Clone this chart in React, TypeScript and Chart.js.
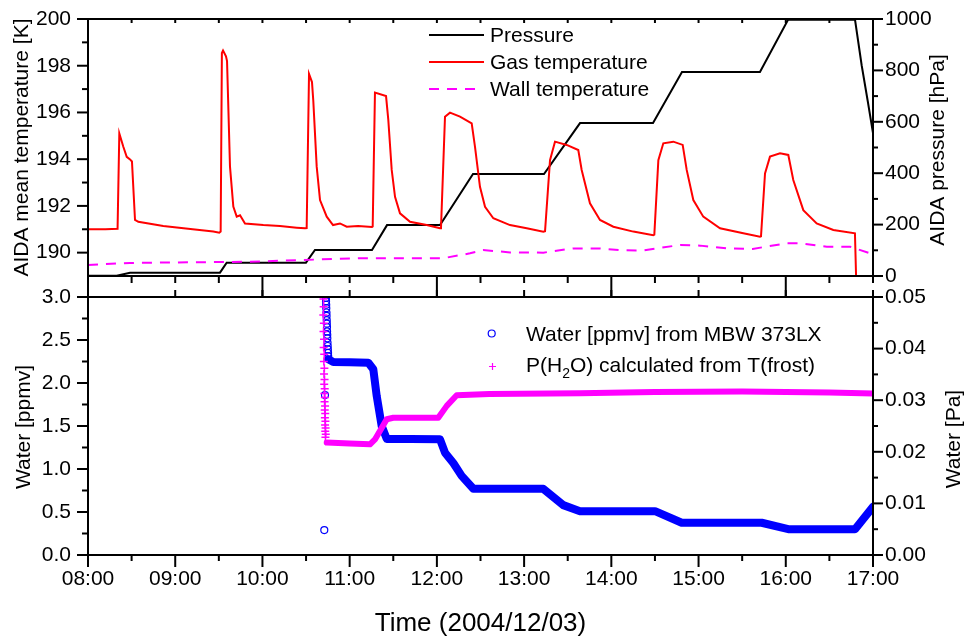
import React, { useEffect, useRef } from 'react';
import { Chart, registerables } from 'chart.js';

Chart.register(...registerables);

const FONT = "'Liberation Sans', Arial, Helvetica, sans-serif";

// ---- ticks ----
const timeTicks = [8, 9, 10, 11, 12, 13, 14, 15, 16, 17];
const timeLabels = ['08:00', '09:00', '10:00', '11:00', '12:00', '13:00', '14:00', '15:00', '16:00', '17:00'];
const timeHalfTicks = [8.5, 9.5, 10.5, 11.5, 12.5, 13.5, 14.5, 15.5, 16.5];
const timeOddHours = [9, 11, 13, 15, 17];
const timeEvenHours = [8, 10, 12, 14, 16];
const tempTicks = [190, 192, 194, 196, 198, 200];
const tempMinorTicks = [191, 193, 195, 197, 199];
const pressureTicks = [0, 200, 400, 600, 800, 1000];
const pressureMinorTicks = [100, 300, 500, 700, 900];
const ppmvTicks = [0, 0.5, 1, 1.5, 2, 2.5, 3];
const ppmvMinorTicks = [0.25, 0.75, 1.25, 1.75, 2.25, 2.75];
const paTicks = [0, 0.01, 0.02, 0.03, 0.04, 0.05];
const paMinorTicks = [0.005, 0.015, 0.025, 0.035, 0.045];

// ---- top panel data (time in hours) ----
const pressureTime = [8.0, 8.329, 8.482, 9.513, 9.59, 10.499, 10.602, 11.256, 11.428, 12.036, 12.414, 13.228, 13.641, 14.478, 14.81, 15.704, 16.026, 16.794, 16.87, 16.94, 17.0];
const pressureValues = [1, 1, 13, 13, 52, 52, 101, 101, 198, 198, 397, 397, 595, 595, 794, 794, 997, 997, 820, 680, 556];

const gasTime = [8.0, 8.2, 8.339, 8.359, 8.405, 8.444, 8.482, 8.504, 8.539, 8.577, 8.863, 9.2, 9.437, 9.505, 9.521, 9.535, 9.548, 9.582, 9.594, 9.628, 9.666, 9.705, 9.743, 9.8, 10.01, 10.201, 10.393, 10.488, 10.507, 10.534, 10.568, 10.583, 10.622, 10.66, 10.737, 10.809, 10.889, 10.966, 11.096, 11.256, 11.264, 11.29, 11.417, 11.443, 11.482, 11.52, 11.577, 11.692, 11.883, 12.036, 12.047, 12.093, 12.15, 12.265, 12.399, 12.437, 12.494, 12.552, 12.647, 12.838, 13.03, 13.22, 13.24, 13.297, 13.354, 13.488, 13.621, 13.66, 13.755, 13.87, 14.023, 14.252, 14.481, 14.493, 14.539, 14.596, 14.711, 14.818, 14.864, 14.94, 15.054, 15.246, 15.513, 15.704, 15.716, 15.762, 15.819, 15.934, 16.029, 16.086, 16.201, 16.354, 16.545, 16.793, 16.813];
const gasValues = [191.0, 191.0, 191.02, 195.1, 194.53, 194.1, 193.99, 193.9, 191.4, 191.32, 191.14, 191.0, 190.9, 190.85, 190.9, 198.55, 198.65, 198.4, 198.2, 193.68, 191.97, 191.54, 191.6, 191.25, 191.18, 191.14, 191.07, 191.04, 191.05, 197.65, 197.3, 196.5, 193.68, 192.25, 191.54, 191.18, 191.25, 191.11, 191.14, 191.1, 191.12, 196.85, 196.7, 195.68, 193.54, 192.39, 191.68, 191.32, 191.18, 191.04, 191.05, 195.82, 195.99, 195.82, 195.53, 194.53, 192.82, 191.96, 191.47, 191.18, 191.04, 190.9, 190.92, 193.96, 194.75, 194.61, 194.39, 193.54, 192.11, 191.4, 191.11, 190.9, 190.75, 190.77, 193.96, 194.68, 194.75, 194.61, 193.54, 192.25, 191.54, 191.04, 190.83, 190.68, 190.7, 193.39, 194.11, 194.25, 194.18, 193.11, 191.82, 191.25, 190.97, 190.83, 188.0];

const wallTime = [8.0, 8.48, 9.86, 10.43, 10.66, 11.12, 12.07, 12.38, 12.53, 12.84, 13.22, 13.56, 13.87, 14.1, 14.36, 14.79, 15.02, 15.33, 15.62, 16.01, 16.16, 16.47, 16.74, 16.97, 17.0];
const wallValues = [189.47, 189.56, 189.61, 189.68, 189.71, 189.76, 189.76, 189.97, 190.11, 190.01, 190.0, 190.18, 190.18, 190.11, 190.09, 190.33, 190.3, 190.18, 190.16, 190.4, 190.4, 190.25, 190.25, 189.97, 189.95];

// ---- bottom panel data ----
const waterTime = [10.755, 10.812, 11.0, 11.214, 11.271, 11.31, 11.367, 11.425, 11.7, 12.036, 12.093, 12.188, 12.284, 12.418, 12.8, 13.22, 13.449, 13.641, 14.0, 14.501, 14.807, 15.3, 15.724, 16.029, 16.4, 16.794, 17.0];
const waterValues = [2.276, 2.245, 2.24, 2.235, 2.16, 1.85, 1.5, 1.35, 1.35, 1.345, 1.19, 1.07, 0.92, 0.77, 0.77, 0.77, 0.58, 0.51, 0.51, 0.51, 0.375, 0.375, 0.375, 0.3, 0.3, 0.3, 0.56];

const waterSpikeTime = [10.728, 10.729, 10.731, 10.732, 10.734, 10.735, 10.737, 10.738, 10.74, 10.741, 10.743, 10.744, 10.746, 10.748, 10.75, 10.752, 10.754, 10.717, 10.709];
const waterSpikeValues = [2.99, 2.95, 2.91, 2.87, 2.82, 2.78, 2.73, 2.69, 2.65, 2.6, 2.56, 2.52, 2.47, 2.43, 2.39, 2.35, 2.31, 1.86, 0.29];

const ph2oTime = [10.737, 11.0, 11.233, 11.29, 11.425, 11.5, 12.016, 12.113, 12.227, 12.6, 13.641, 14.5, 15.5, 16.5, 17.0];
const ph2oValues = [0.0218, 0.0216, 0.02145, 0.0224, 0.0263, 0.0266, 0.0266, 0.0289, 0.03095, 0.0312, 0.03133, 0.0316, 0.0317, 0.0315, 0.0313];

const ph2oSpikeTime = [10.7, 10.702, 10.698, 10.704, 10.7, 10.706, 10.702, 10.708, 10.704, 10.71, 10.706, 10.712, 10.708, 10.714, 10.71, 10.716, 10.712, 10.718, 10.714, 10.72, 10.716, 10.722, 10.718, 10.724, 10.72, 10.726, 10.722];
const ph2oSpikeValues = [0.0496, 0.0481, 0.0465, 0.0449, 0.0433, 0.0418, 0.0402, 0.0389, 0.0375, 0.0362, 0.0351, 0.034, 0.0331, 0.0322, 0.0313, 0.0305, 0.0297, 0.0289, 0.0281, 0.0274, 0.0266, 0.0259, 0.0252, 0.0246, 0.024, 0.0234, 0.0228];

const zip = (xs: number[], ys: number[]) => xs.map((x, i) => ({ x, y: ys[i] }));

type Spec = { axis: string; values: number[]; side: string; from: number; to: number };

function drawFrame(chart: any, specs: Spec[]) {
  const { ctx, chartArea: a } = chart;
  ctx.save();
  ctx.strokeStyle = '#000';
  ctx.lineWidth = 2;
  ctx.lineCap = 'butt';
  for (const s of specs) {
    const sc = chart.scales[s.axis];
    for (const v of s.values) {
      const p = sc.getPixelForValue(v);
      ctx.beginPath();
      if (s.side === 'left') { ctx.moveTo(a.left - s.from, p); ctx.lineTo(a.left - s.to, p); }
      else if (s.side === 'right') { ctx.moveTo(a.right + s.from, p); ctx.lineTo(a.right + s.to, p); }
      else if (s.side === 'top') { ctx.moveTo(p, a.top - s.from); ctx.lineTo(p, a.top - s.to); }
      else { ctx.moveTo(p, a.bottom + s.from); ctx.lineTo(p, a.bottom + s.to); }
      ctx.stroke();
    }
  }
  ctx.strokeRect(a.left, a.top, a.right - a.left, a.bottom - a.top);
  ctx.restore();
}

function vText(ctx: any, text: string, x: number, y: number, size: number) {
  ctx.save();
  ctx.translate(x, y);
  ctx.rotate(-Math.PI / 2);
  ctx.font = `${size}px ${FONT}`;
  ctx.fillStyle = '#000';
  ctx.textAlign = 'center';
  ctx.textBaseline = 'middle';
  ctx.fillText(text, 0, 0);
  ctx.restore();
}

const topPlugin = {
  id: 'topDecor',
  afterDraw(chart: any) {
    drawFrame(chart, [
      { axis: 'yT', values: tempTicks, side: 'left', from: 0, to: 11 },
      { axis: 'yT', values: tempMinorTicks, side: 'left', from: 0, to: 6 },
      { axis: 'yP', values: pressureTicks, side: 'right', from: 0, to: 10 },
      { axis: 'yP', values: pressureMinorTicks, side: 'right', from: 0, to: 5 },
      { axis: 'x', values: timeHalfTicks.concat(timeTicks), side: 'top', from: 0, to: -4 },
      { axis: 'x', values: timeHalfTicks.concat(timeOddHours), side: 'bottom', from: 0, to: 7 },
      { axis: 'x', values: timeEvenHours, side: 'bottom', from: 0, to: 21 },
    ]);
    const ctx = chart.ctx;
    vText(ctx, 'AIDA mean temperature [K]', 22.5, 147.5, 21);
    vText(ctx, 'AIDA pressure [hPa]', 938, 150, 21);
    // legend
    ctx.save();
    ctx.lineWidth = 2;
    const rows = [
      { y: 35, color: '#000000', dash: [], text: 'Pressure', x2: 484 },
      { y: 62, color: '#ff0000', dash: [], text: 'Gas temperature', x2: 484 },
      { y: 89, color: '#ff00ff', dash: [10, 8], text: 'Wall temperature', x2: 478 },
    ];
    for (const r of rows) {
      ctx.strokeStyle = r.color;
      ctx.setLineDash(r.dash);
      ctx.beginPath();
      ctx.moveTo(429, r.y);
      ctx.lineTo(r.x2, r.y);
      ctx.stroke();
      ctx.setLineDash([]);
      ctx.font = `21px ${FONT}`;
      ctx.fillStyle = '#000';
      ctx.textAlign = 'left';
      ctx.textBaseline = 'middle';
      ctx.fillText(r.text, 490, r.y + 1);
    }
    ctx.restore();
  },
};

const OFF = 280;
const bottomPlugin = {
  id: 'bottomDecor',
  afterDraw(chart: any) {
    drawFrame(chart, [
      { axis: 'yW', values: ppmvTicks, side: 'left', from: 0, to: 11 },
      { axis: 'yW', values: ppmvMinorTicks, side: 'left', from: 0, to: 6 },
      { axis: 'yPa', values: paTicks, side: 'right', from: 0, to: 10 },
      { axis: 'yPa', values: paMinorTicks, side: 'right', from: 0, to: 5 },
      { axis: 'x', values: timeTicks, side: 'top', from: 0, to: 7 },
      { axis: 'x', values: timeTicks, side: 'bottom', from: 0, to: 12 },
      { axis: 'x', values: timeHalfTicks, side: 'bottom', from: 0, to: 6 },
    ]);
    const ctx = chart.ctx;
    vText(ctx, 'Water [ppmv]', 24, 427 - OFF, 21);
    vText(ctx, 'Water [Pa]', 954, 439 - OFF, 21);
    ctx.save();
    ctx.font = `26px ${FONT}`;
    ctx.fillStyle = '#000';
    ctx.textAlign = 'center';
    ctx.textBaseline = 'middle';
    ctx.fillText('Time (2004/12/03)', 480.5, 624 - OFF);
    // legend
    ctx.strokeStyle = '#0000ff';
    ctx.lineWidth = 1.2;
    ctx.beginPath();
    ctx.arc(491.7, 333.5 - OFF, 3.5, 0, Math.PI * 2);
    ctx.stroke();
    ctx.strokeStyle = '#ff00ff';
    ctx.lineWidth = 1.2;
    ctx.beginPath();
    ctx.moveTo(489, 366.5 - OFF); ctx.lineTo(496, 366.5 - OFF);
    ctx.moveTo(492.5, 363 - OFF); ctx.lineTo(492.5, 370 - OFF);
    ctx.stroke();
    ctx.font = `21px ${FONT}`;
    ctx.textAlign = 'left';
    ctx.fillText('Water [ppmv] from MBW 373LX', 526, 335 - OFF);
    let x = 526;
    const y2 = 366 - OFF;
    ctx.fillText('P(H', x, y2);
    x += ctx.measureText('P(H').width;
    ctx.font = `14px ${FONT}`;
    ctx.fillText('2', x, y2 + 8);
    x += ctx.measureText('2').width;
    ctx.font = `21px ${FONT}`;
    ctx.fillText('O) calculated from T(frost)', x, y2);
    ctx.restore();
  },
};

const tickFont = { family: FONT, size: 21 };

function yAxis(position: string, min: number, max: number, ticks: number[], width: number, padding: number, fmt: (v: number) => string) {
  return {
    type: 'linear',
    position,
    min,
    max,
    afterBuildTicks: (s: any) => { s.ticks = ticks.map((v) => ({ value: v })); },
    afterFit: (s: any) => { s.width = width; s.paddingTop = 0; s.paddingBottom = 0; },
    grid: { display: false, drawTicks: false },
    border: { display: false },
    ticks: { font: tickFont, color: '#000', padding, callback: (v: any) => fmt(Number(v)) },
  };
}

export default function App() {
  const topRef = useRef<HTMLCanvasElement>(null);
  const botRef = useRef<HTMLCanvasElement>(null);

  useEffect(() => {
    const top = new Chart(topRef.current as HTMLCanvasElement, {
      type: 'line',
      data: {
        datasets: [
          { label: 'Gas temperature', data: zip(gasTime, gasValues), xAxisID: 'x', yAxisID: 'yT', borderColor: '#ff0000', borderWidth: 2, pointRadius: 0, tension: 0, fill: false, clip: 0 } as any,
          { label: 'Wall temperature', data: zip(wallTime, wallValues), xAxisID: 'x', yAxisID: 'yT', borderColor: '#ff00ff', borderDash: [10, 8], borderWidth: 2, pointRadius: 0, tension: 0, fill: false, clip: 0 },
          { label: 'Pressure', data: zip(pressureTime, pressureValues), xAxisID: 'x', yAxisID: 'yP', borderColor: '#000000', borderWidth: 2, pointRadius: 0, tension: 0, fill: false, clip: 0 },
        ],
      },
      options: {
        responsive: false,
        animation: false,
        devicePixelRatio: 1,
        events: [],
        layout: { padding: { top: 19, bottom: 24, left: 0, right: 0 } },
        plugins: { legend: { display: false }, tooltip: { enabled: false } },
        scales: {
          x: { type: 'linear', min: 8, max: 17, display: false },
          yT: yAxis('left', 189, 200, tempTicks, 88, 17, (v) => String(v)),
          yP: yAxis('right', 0, 1000, pressureTicks, 94, 12, (v) => String(v)),
        } as any,
      },
      plugins: [topPlugin],
    } as any);

    const bot = new Chart(botRef.current as HTMLCanvasElement, {
      type: 'line',
      data: {
        datasets: [
          { label: 'ph2o spike', data: zip(ph2oSpikeTime, ph2oSpikeValues), xAxisID: 'x', yAxisID: 'yPa', showLine: false, pointStyle: 'cross', pointRadius: 4, pointBorderColor: '#ff00ff', pointBorderWidth: 1.5, borderColor: '#ff00ff', clip: 0 },
          { label: 'water spike', data: zip(waterSpikeTime, waterSpikeValues), xAxisID: 'x', yAxisID: 'yW', showLine: false, pointStyle: 'circle', pointRadius: 3.5, pointBorderColor: '#0000ff', pointBackgroundColor: 'rgba(0,0,0,0)', pointBorderWidth: 1.2, borderColor: '#0000ff', clip: 0 },
          { label: 'P(H2O) calculated from T(frost)', data: zip(ph2oTime, ph2oValues), xAxisID: 'x', yAxisID: 'yPa', borderColor: '#ff00ff', borderWidth: 6, pointRadius: 0, tension: 0, fill: false, borderJoinStyle: 'round', borderCapStyle: 'round', clip: 0 },
          { label: 'Water [ppmv] from MBW 373LX', data: zip(waterTime, waterValues), xAxisID: 'x', yAxisID: 'yW', borderColor: '#0000ff', borderWidth: 8, pointRadius: 0, tension: 0, fill: false, borderJoinStyle: 'round', borderCapStyle: 'round', clip: 0 },
        ],
      },
      options: {
        responsive: false,
        animation: false,
        devicePixelRatio: 1,
        events: [],
        layout: { padding: { top: 17, bottom: 0, left: 0, right: 0 } },
        plugins: { legend: { display: false }, tooltip: { enabled: false } },
        scales: {
          x: {
            type: 'linear',
            position: 'bottom',
            min: 8,
            max: 17,
            afterBuildTicks: (s: any) => { s.ticks = timeTicks.map((v) => ({ value: v })); },
            afterFit: (s: any) => { s.height = 84; s.paddingLeft = 0; s.paddingRight = 0; },
            grid: { display: false, drawTicks: false },
            border: { display: false },
            ticks: {
              font: tickFont,
              color: '#000',
              padding: 12,
              autoSkip: false,
              maxRotation: 0,
              minRotation: 0,
              callback: (v: any) => timeLabels[timeTicks.indexOf(Number(v))],
            },
          },
          yW: yAxis('left', 0, 3, ppmvTicks, 88, 17, (v) => v.toFixed(1)),
          yPa: yAxis('right', 0, 0.05, paTicks, 94, 12, (v) => v.toFixed(2)),
        } as any,
      },
      plugins: [bottomPlugin],
    } as any);

    return () => {
      top.destroy();
      bot.destroy();
    };
  }, []);

  return (
    <div style={{ position: 'absolute', left: 0, top: 0, width: 967, height: 639, background: '#fff', overflow: 'hidden' }}>
      <canvas ref={topRef} width={967} height={300} style={{ position: 'absolute', left: 0, top: 0, width: 967, height: 300 }} />
      <canvas ref={botRef} width={967} height={359} style={{ position: 'absolute', left: 0, top: OFF, width: 967, height: 359 }} />
    </div>
  );
}
